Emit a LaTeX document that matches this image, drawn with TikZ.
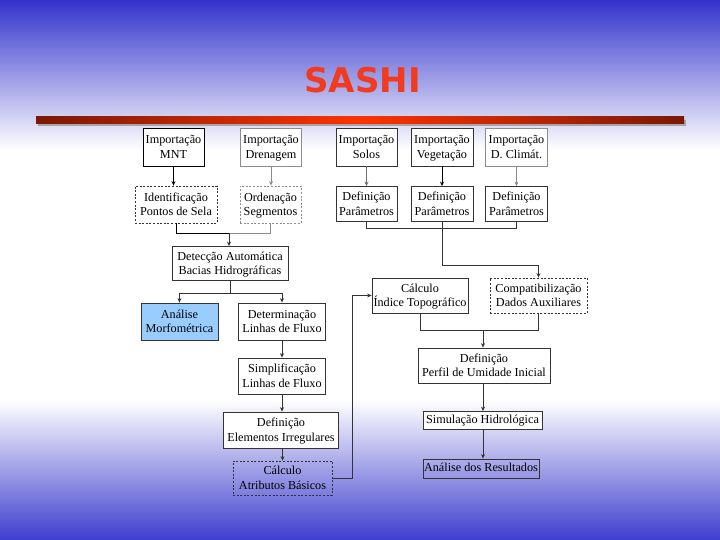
\documentclass[tikz,border=0pt]{standalone}
\usepackage{fontspec}
\setmainfont{Liberation Serif}
\newfontfamily\titlefont{DejaVu Sans}
\usetikzlibrary{arrows.meta}
\definecolor{bgblue}{HTML}{3333CC}
\definecolor{barred}{HTML}{FF3300}
\definecolor{bardark}{HTML}{7A1805}
\definecolor{titlered}{HTML}{F23A1E}
\definecolor{boxgray}{HTML}{333333}
\definecolor{lightgray}{HTML}{8C8C8C}
\definecolor{morfblue}{HTML}{99CCFF}
\tikzset{
  box/.style={draw=boxgray, line width=0.8pt, fill=white, inner sep=0pt},
  dbox/.style={box, fill=none, dash pattern=on 2pt off 1.6pt},
  txt/.style={inner sep=0pt, align=center, font=\fontsize{12.2}{14.5}\selectfont,
              execute at begin node=\strut},
  ln/.style={draw=boxgray, line width=0.8pt},
  arr/.style={ln, -{Stealth[length=4.5pt,width=4pt]}},
}
% #1 style, #2 name, #3 centre, #4 text, #5 vertical text offset
\newcommand\bx[5][-2pt]{%
  \node[#2] (#3) at (#4) {};
  \node[txt] (#3-t) at ([yshift=#1]#3.center) {#5\strut};}
\begin{document}
\begin{tikzpicture}[x=1pt,y=-1pt]
\useasboundingbox (0,0) rectangle (720,540);
% background
\fill[white] (0,0) rectangle (720,540);
\shade[top color=bgblue, bottom color=white] (0,0) rectangle (720,150);
\shade[top color=white, bottom color=bgblue!95!white] (0,400) rectangle (720,540.5);
% title
\node[font=\titlefont\bfseries\fontsize{34}{34}\selectfont, text=titlered] (title) at (362.5,80.5) {SASHI};
% bar
\fill[gray!70] (38,120) rectangle (686,126);
\shade[left color=bardark, right color=bardark, middle color=barred] (36,117) rectangle (684,123.5);

% row 1 imports
\bx{box, draw=black, minimum width=61pt, minimum height=38pt}{imnt}{173.5,147}{Importação\\MNT}
\bx{box, draw=lightgray, minimum width=61pt, minimum height=38pt}{idren}{271,147}{Importação\\Drenagem}
\bx{box, minimum width=61pt, minimum height=38pt}{isolos}{366.5,147}{Importação\\Solos}
\bx{box, minimum width=62pt, minimum height=38pt}{ivege}{442,147}{Importação\\Vegetação}
\bx{box, draw=lightgray, minimum width=62pt, minimum height=38pt}{iclim}{516.5,147}{Importação\\D. Climát.}

% row 2
\bx{dbox, minimum width=82pt, minimum height=37pt}{ident}{176,204.5}{Identificação\\Pontos de Sela}
\bx{dbox, draw=lightgray, minimum width=61pt, minimum height=37pt}{orden}{270.5,204.5}{Ordenação\\Segmentos}
\bx{box, minimum width=61pt, minimum height=35pt}{dpar1}{366.5,204}{Definição\\Parâmetros}
\bx{box, minimum width=62pt, minimum height=35pt}{dpar2}{442,204}{Definição\\Parâmetros}
\bx{box, minimum width=62pt, minimum height=35pt}{dpar3}{516.5,204}{Definição\\Parâmetros}

% left column
\bx{box, minimum width=116pt, minimum height=34pt}{detec}{230,263.5}{Detecção Automática\\Bacias Hidrográficas}
\bx{box, fill=morfblue, minimum width=77pt, minimum height=37pt}{morf}{179.5,321.5}{Análise\\Morfométrica}
\bx{box, minimum width=87pt, minimum height=37pt}{deter}{282,321.5}{Determinação\\Linhas de Fluxo}
\bx{box, minimum width=87pt, minimum height=36pt}{simpl}{282,376}{Simplificação\\Linhas de Fluxo}
\bx{box, minimum width=115pt, minimum height=36pt}{elem}{281,430}{Definição\\Elementos Irregulares}
\bx{dbox, minimum width=99pt, minimum height=34pt}{atrib}{282.5,478}{Cálculo\\Atributos Básicos}

% right column
\bx{box, minimum width=96pt, minimum height=35pt}{indice}{420,295.5}{Cálculo\\Índice Topográfico}
\bx{dbox, minimum width=97pt, minimum height=35pt}{compat}{538.5,295.5}{Compatibilização\\Dados Auxiliares}
\bx{box, minimum width=132pt, minimum height=35pt}{perfil}{484,365.5}{Definição\\Perfil de Umidade Inicial}
\bx[0pt]{box, minimum width=119pt, minimum height=18pt}{simul}{482.5,420.5}{Simulação Hidrológica}
\bx[0pt]{box, fill=none, minimum width=116pt, minimum height=19pt}{result}{481,468.5}{Análise dos Resultados}

% coordinates for junctions
\coordinate (m1) at (229,233);
\coordinate (m2) at (230,293);
\coordinate (m3) at (442,228);
\coordinate (m4) at (442,265);
\coordinate (m5) at (483,330);
\coordinate (bend) at (352,0);

% connectors top-left
\draw[arr, draw=black] (imnt.south) -- (imnt.south |- ident.north);
\draw[arr, draw=lightgray] (idren.south) -- (idren.south |- orden.north);
\draw[ln, draw=black] (ident.south) |- (m1);
\draw[ln, draw=lightgray] (m1) -| (orden.south);
\draw[arr] (m1) -- (m1 |- detec.north);
\draw[ln] (detec.south) -- (m2);
\draw[arr] (m2) -| (morf.north);
\draw[arr] (m2) -| (deter.north);
\draw[arr] (deter.south) -- (simpl.north);
\draw[arr] (simpl.south) -- (simpl.south |- elem.north);
\draw[arr] (elem.south -| atrib.north) -- (atrib.north);

% connectors top-right
\draw[arr, draw=lightgray!80!black] (isolos.south) -- (dpar1.north);
\draw[arr, draw=black, line width=1pt] (ivege.south) -- (dpar2.north);
\draw[arr, draw=lightgray] (iclim.south) -- (dpar3.north);
\draw[ln] (dpar1.south) |- (m3);
\draw[ln] (dpar2.south) -- (m3);
\draw[ln] (dpar3.south) |- (m3);
\draw[arr] (m3) -- (m4) -| (compat.north);

% right column
\draw[ln] (indice.south) |- (m5);
\draw[ln] (compat.south) |- (m5);
\draw[arr] (m5) -- (m5 |- perfil.north);
\draw[arr] (perfil.south -| m5) -- (m5 |- simul.north);
\draw[arr] (simul.south -| m5) -- (m5 |- result.north);

% feedback from atributos to indice
\draw[arr] (atrib.east) -- (atrib.east -| bend) -- (indice.west -| bend) -- (indice.west);
\end{tikzpicture}
\end{document}
